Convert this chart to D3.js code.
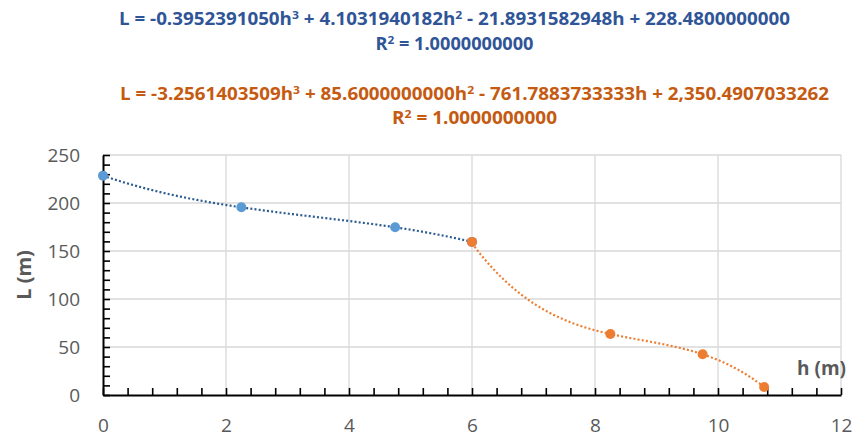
<!DOCTYPE html>
<html><head><meta charset="utf-8">
<script src="https://cdn.jsdelivr.net/npm/d3@7"></script>
<style>body{margin:0;background:#fff}svg{display:block}</style>
</head><body><svg id="c" width="854" height="439"></svg>
<script>
// ---- data ----
const blueH = [0, 2.25, 4.75, 6];
const blueL = [228.48, 195.5, 174.7, 159.5];
const orangeH = [6, 8.25, 9.75, 10.75];
const orangeL = [159.5, 63.5, 42.4, 8.3];
// trendline coefficients shown on the chart (h^3, h^2, h, const)
const blueCoef = [-0.3952391050, 4.1031940182, -21.8931582948, 228.48];
const orangeCoef = [-3.2561403509, 85.6, -761.7883733333, 2350.4907033262];
const blueR2 = 1, orangeR2 = 1;
const xTicks = [0, 2, 4, 6, 8, 10, 12];
const yTicks = [0, 50, 100, 150, 200, 250];
const xTitle = "h (m)", yTitle = "L (m)";

// ---- style ----
const C = {blue: "#5B9BD5", blueTrend: "#2B5C8F", blueText: "#2F5597",
  orange: "#ED7D31", orangeText: "#C55A11", grid: "#D9D9D9", axis: "#000", label: "#595959"};
const tickFont = "'Open Sans', sans-serif";

const svg = d3.select("#c");
const x = d3.scaleLinear().domain([0, 12]).range([103, 841]);
const y = d3.scaleLinear().domain([0, 250]).range([395, 155]);

// gridlines
const g = svg.append("g");
g.selectAll("line.gx").data(xTicks.filter(d => d > 0)).join("line")
  .attr("x1", d => x(d)).attr("x2", d => x(d)).attr("y1", y(0)).attr("y2", y(250))
  .attr("stroke", C.grid).attr("stroke-width", 1.3);
g.selectAll("line.gy").data(yTicks.filter(d => d > 0)).join("line")
  .attr("x1", x(0)).attr("x2", x(12)).attr("y1", d => y(d)).attr("y2", d => y(d))
  .attr("stroke", C.grid).attr("stroke-width", 1.3);

// axes: minor/major inside ticks
const xMinor = d3.range(0, 12.0001, 0.4);
const yMinor = d3.range(0, 250.001, 10);
const ax = svg.append("g").attr("transform", `translate(0,${y(0)})`)
  .call(d3.axisBottom(x).tickValues(xMinor).tickSize(-7).tickSizeOuter(0).tickFormat(""));
const ay = svg.append("g").attr("transform", `translate(${x(0)},0)`)
  .call(d3.axisLeft(y).tickValues(yMinor).tickSize(-7).tickSizeOuter(0).tickFormat(""));
[ax, ay].forEach(a => {
  a.select(".domain").attr("stroke", C.axis).attr("stroke-width", 2);
  a.selectAll(".tick line").attr("stroke", C.axis).attr("stroke-width", 1.6);
});

// tick labels
const lx = svg.append("g").attr("transform", `translate(0,${y(0)})`)
  .call(d3.axisBottom(x).tickValues(xTicks).tickSize(0).tickPadding(24));
const ly = svg.append("g").attr("transform", `translate(${x(0)},0)`)
  .call(d3.axisLeft(y).tickValues(yTicks).tickSize(0).tickPadding(23));
[lx, ly].forEach(a => {
  a.select(".domain").remove();
  a.selectAll("text").attr("fill", C.label).style("font-family", tickFont).style("font-size", "19px");
});

// axis titles
svg.append("text").text(yTitle)
  .attr("transform", "translate(31,275) rotate(-90)").attr("text-anchor", "middle")
  .style("font-family", tickFont).style("font-weight", "bold").style("font-size", "20px")
  .attr("fill", C.label);
svg.append("text").text(xTitle)
  .attr("x", 846).attr("y", 375).attr("text-anchor", "end")
  .style("font-family", tickFont).style("font-weight", "bold").style("font-size", "19px")
  .attr("fill", C.label);

// trendlines (from displayed equation coefficients)
const poly = (c, h) => ((c[0] * h + c[1]) * h + c[2]) * h + c[3];
const line = d3.line().x(d => x(d[0])).y(d => y(d[1]));
function trend(hs, coef, color) {
  const lo = d3.min(hs), hi = d3.max(hs);
  const pts = d3.range(0, 201).map(i => { const h = lo + (hi - lo) * i / 200; return [h, poly(coef, h)]; });
  svg.append("path").attr("d", line(pts)).attr("fill", "none")
    .attr("stroke", color).attr("stroke-width", 2.2)
    .attr("stroke-dasharray", "2,2.2");
}
trend(blueH, blueCoef, C.blueTrend);
trend(orangeH, orangeCoef, C.orange);

// markers
function markers(hs, ls, color) {
  svg.append("g").selectAll("circle").data(hs.map((h, i) => [h, ls[i]])).join("circle")
    .attr("cx", d => x(d[0])).attr("cy", d => y(d[1])).attr("r", 5).attr("fill", color);
}
markers(blueH, blueL, C.blue);
markers(orangeH, orangeL, C.orange);

// equation labels
const fmt = d3.format(",.10f");
function eqText(cx, baseline, coef, color, width) {
  const t = svg.append("text").attr("x", cx).attr("y", baseline).attr("text-anchor", "middle")
    .style("font-family", tickFont).style("font-weight", "bold").style("font-size", "17px")
    .attr("fill", color);
  const parts = [
    [(coef[0] < 0 ? "-" : "") + fmt(Math.abs(coef[0])) + "h", "3"],
    [(coef[1] < 0 ? " - " : " + ") + fmt(Math.abs(coef[1])) + "h", "2"],
    [(coef[2] < 0 ? " - " : " + ") + fmt(Math.abs(coef[2])) + "h", null],
    [(coef[3] < 0 ? " - " : " + ") + fmt(Math.abs(coef[3])), null]
  ];
  let shift = 0;
  t.append("tspan").text("L = ");
  parts.forEach(([s, sup]) => {
    t.append("tspan").text(s).attr("dy", shift);
    shift = 0;
    if (sup) {
      t.append("tspan").text(sup).attr("dy", -6).style("font-size", "11px");
      shift = 6;
    }
  });
  t.attr("textLength", width).attr("lengthAdjust", "spacingAndGlyphs");
}
function r2Text(cx, baseline, r2, color, width) {
  const t = svg.append("text").attr("x", cx).attr("y", baseline).attr("text-anchor", "middle")
    .style("font-family", tickFont).style("font-weight", "bold").style("font-size", "17px")
    .attr("fill", color);
  t.append("tspan").text("R");
  t.append("tspan").text("2").attr("dy", -6).style("font-size", "11px");
  t.append("tspan").text(" = " + d3.format(".10f")(r2)).attr("dy", 6);
  t.attr("textLength", width).attr("lengthAdjust", "spacingAndGlyphs");
}
eqText(454.5, 25, blueCoef, C.blueText, 671);
r2Text(454.5, 50, blueR2, C.blueText, 158);
eqText(474.5, 100, orangeCoef, C.orangeText, 709);
r2Text(474.5, 124, orangeR2, C.orangeText, 165);
</script></body></html>
